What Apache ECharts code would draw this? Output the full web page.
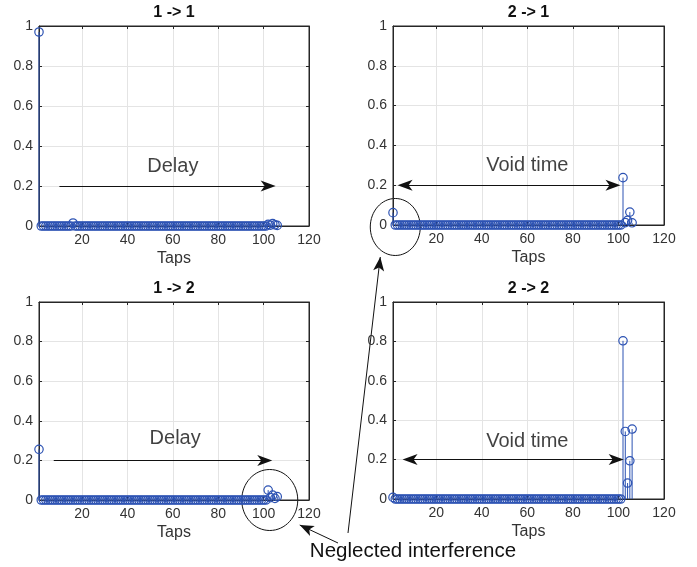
<!DOCTYPE html>
<html>
<head>
<meta charset="utf-8">
<script src="https://cdn.jsdelivr.net/npm/echarts@6/dist/echarts.min.js"></script>
<style>
  html, body { margin: 0; padding: 0; background: #ffffff; }
  #chart { width: 697px; height: 567px; }
</style>
</head>
<body>
<div id="chart"></div>
<script>
// Impulse responses (tap 1..106) for each input -> output path
const panelTitles = ['1 -> 1', '2 -> 1', '1 -> 2', '2 -> 2'];
const xTickValues = [20, 40, 60, 80, 100, 120];

const h11 = [
  0.97, 0, 0, 0, 0, 0, 0, 0, 0, 0,
  0, 0, 0, 0, 0, 0.015, 0, 0, 0, 0,
  0, 0, 0, 0, 0, 0, 0, 0, 0, 0,
  0, 0, 0, 0, 0, 0, 0, 0, 0, 0,
  0, 0, 0, 0, 0, 0, 0, 0, 0, 0,
  0, 0, 0, 0, 0, 0, 0, 0, 0, 0,
  0, 0, 0, 0, 0, 0, 0, 0, 0, 0,
  0, 0, 0, 0, 0, 0, 0, 0, 0, 0,
  0, 0, 0, 0, 0, 0, 0, 0, 0, 0,
  0, 0, 0, 0, 0, 0, 0, 0, 0, 0,
  0, 0.008, 0.004, 0.012, 0.006, 0.003
];
const h21 = [
  0.062, 0, 0, 0, 0, 0, 0, 0, 0, 0,
  0, 0, 0, 0, 0, 0, 0, 0, 0, 0,
  0, 0, 0, 0, 0, 0, 0, 0, 0, 0,
  0, 0, 0, 0, 0, 0, 0, 0, 0, 0,
  0, 0, 0, 0, 0, 0, 0, 0, 0, 0,
  0, 0, 0, 0, 0, 0, 0, 0, 0, 0,
  0, 0, 0, 0, 0, 0, 0, 0, 0, 0,
  0, 0, 0, 0, 0, 0, 0, 0, 0, 0,
  0, 0, 0, 0, 0, 0, 0, 0, 0, 0,
  0, 0, 0, 0, 0, 0, 0, 0, 0, 0,
  0, 0.238, 0.012, 0.023, 0.065, 0.011
];
const h12 = [
  0.256, 0, 0, 0, 0, 0, 0, 0, 0, 0,
  0, 0, 0, 0, 0, 0, 0, 0, 0, 0,
  0, 0, 0, 0, 0, 0, 0, 0, 0, 0,
  0, 0, 0, 0, 0, 0, 0, 0, 0, 0,
  0, 0, 0, 0, 0, 0, 0, 0, 0, 0,
  0, 0, 0, 0, 0, 0, 0, 0, 0, 0,
  0, 0, 0, 0, 0, 0, 0, 0, 0, 0,
  0, 0, 0, 0, 0, 0, 0, 0, 0, 0,
  0, 0, 0, 0, 0, 0, 0, 0, 0, 0,
  0, 0, 0, 0, 0, 0, 0, 0, 0, 0,
  0, 0.05, 0.012, 0.025, 0.008, 0.017
];
const h22 = [
  0.008, 0, 0, 0, 0, 0, 0, 0, 0, 0,
  0, 0, 0, 0, 0, 0, 0, 0, 0, 0,
  0, 0, 0, 0, 0, 0, 0, 0, 0, 0,
  0, 0, 0, 0, 0, 0, 0, 0, 0, 0,
  0, 0, 0, 0, 0, 0, 0, 0, 0, 0,
  0, 0, 0, 0, 0, 0, 0, 0, 0, 0,
  0, 0, 0, 0, 0, 0, 0, 0, 0, 0,
  0, 0, 0, 0, 0, 0, 0, 0, 0, 0,
  0, 0, 0, 0, 0, 0, 0, 0, 0, 0,
  0, 0, 0, 0, 0, 0, 0, 0, 0, 0,
  0, 0.803, 0.343, 0.081, 0.194, 0.355
];
const panelData = [h11, h21, h12, h22];

// Span arrows and their captions, in data units of each panel
const noteLabels = ['Delay', 'Void time', 'Delay', 'Void time'];
const noteSpans = [[10, 102], [6.3, 97.6], [7.5, 100.5], [8.5, 99]];
const noteLevels = [0.2, 0.2, 0.2, 0.2];
const noteTextPos = [[60, 0.3], [60, 0.3], [61, 0.31], [60, 0.29]];
const noteTwoSided = [false, true, false, true];

const FONT = '"Liberation Sans", Arial, Helvetica, sans-serif';
const AXIS = '#262626';
const GRIDC = '#e4e4e4';
const STEM = '#2c52b3';
const INK = '#111111';

const grids = [
  { left: 39, top: 26, width: 270, height: 200 },
  { left: 393, top: 26, width: 271, height: 199 },
  { left: 39, top: 302, width: 270, height: 198 },
  { left: 393, top: 302, width: 271, height: 197 }
];

const arrowHeadPath = 'path://M5.5,0L11,15L5.5,11L0,15Z';

const xAxes = [], yAxes = [], series = [];
grids.forEach((g, i) => {
  xAxes.push({
    gridIndex: i, type: 'value', min: 1, max: 120, position: 'bottom',
    axisLine: { show: true, onZero: false, lineStyle: { color: AXIS, width: 1 } },
    axisTick: { show: true, inside: true, length: 3, customValues: xTickValues, lineStyle: { color: AXIS } },
    axisLabel: { show: true, customValues: xTickValues, margin: 7, color: '#333', fontSize: 14, fontFamily: FONT },
    splitLine: { show: true, lineStyle: { color: GRIDC, width: 1 } },
    name: 'Taps', nameLocation: 'middle', nameGap: 25,
    nameTextStyle: { color: '#333', fontSize: 16, fontFamily: FONT }
  });
  xAxes.push({
    gridIndex: i, type: 'value', min: 1, max: 120, position: 'top',
    axisLine: { show: true, onZero: false, lineStyle: { color: AXIS, width: 1 } },
    axisTick: { show: true, inside: true, length: 3, customValues: xTickValues, lineStyle: { color: AXIS } },
    axisLabel: { show: false },
    splitLine: { show: false }
  });
  yAxes.push({
    gridIndex: i, type: 'value', min: 0, max: 1, interval: 0.2, position: 'left',
    axisLine: { show: true, onZero: false, lineStyle: { color: AXIS, width: 1 } },
    axisTick: { show: true, inside: true, length: 3, lineStyle: { color: AXIS } },
    axisLabel: { show: true, margin: 6, color: '#333', fontSize: 14, fontFamily: FONT },
    splitLine: { show: true, lineStyle: { color: GRIDC, width: 1 } }
  });
  yAxes.push({
    gridIndex: i, type: 'value', min: 0, max: 1, interval: 0.2, position: 'right',
    axisLine: { show: true, onZero: false, lineStyle: { color: AXIS, width: 1 } },
    axisTick: { show: true, inside: true, length: 3, lineStyle: { color: AXIS } },
    axisLabel: { show: false },
    splitLine: { show: false }
  });

  // stem plot: a line from the zero baseline up to each value, topped by an open circle
  series.push({
    type: 'custom',
    xAxisIndex: 2 * i, yAxisIndex: 2 * i,
    clip: false,
    silent: true,
    data: panelData[i].map((v, k) => [k + 1, v]),
    renderItem: function (params, api) {
      const x = api.value(0), y = api.value(1);
      const p0 = api.coord([x, 0]);
      const p1 = api.coord([x, y]);
      return {
        type: 'group',
        children: [
          { type: 'line', shape: { x1: p0[0], y1: p0[1], x2: p1[0], y2: p1[1] },
            style: { stroke: STEM, lineWidth: 1 } },
          { type: 'circle', shape: { cx: p1[0], cy: p1[1], r: 4.2 },
            style: { fill: 'none', stroke: STEM, lineWidth: 1.2 } }
        ]
      };
    }
  });

  // span arrow with its caption
  const headEnd = { symbol: arrowHeadPath, symbolSize: [11, 15] };
  const s = noteSpans[i], lv = noteLevels[i];
  series.push({
    type: 'scatter',
    xAxisIndex: 2 * i, yAxisIndex: 2 * i,
    silent: true,
    symbolSize: 0,
    data: [noteTextPos[i]],
    label: {
      show: true, position: 'inside', formatter: noteLabels[i],
      color: INK, fontSize: 20, fontFamily: FONT
    },
    markLine: {
      silent: true, animation: false,
      symbol: ['none', 'none'],
      lineStyle: { color: INK, width: 1, type: 'solid' },
      label: { show: false },
      data: [[
        Object.assign({ coord: [s[0], lv] }, noteTwoSided[i] ? headEnd : { symbol: 'none' }),
        Object.assign({ coord: [s[1], lv] }, headEnd)
      ]]
    }
  });
});

const chart = echarts.init(document.getElementById('chart'), null, { renderer: 'canvas' });
chart.setOption({
  animation: false,
  backgroundColor: '#ffffff',
  grid: grids.map(g => Object.assign({ show: true, borderColor: AXIS, borderWidth: 1, backgroundColor: '#fff' }, g)),
  xAxis: xAxes,
  yAxis: yAxes,
  series: series
});

// Panel titles and the "neglected interference" callout
function arrowHead(tip, from, len, halfW, notch) {
  const dx = tip[0] - from[0], dy = tip[1] - from[1];
  const L = Math.hypot(dx, dy), ux = dx / L, uy = dy / L;
  const px = -uy, py = ux;
  const bx = tip[0] - ux * len, by = tip[1] - uy * len;
  const nx = tip[0] - ux * (len - notch), ny = tip[1] - uy * (len - notch);
  return [tip, [bx + px * halfW, by + py * halfW], [nx, ny], [bx - px * halfW, by - py * halfW]];
}

const graphics = [];
grids.forEach((g, i) => {
  graphics.push({
    type: 'text', silent: true,
    x: g.left + g.width / 2, y: g.top - 13,
    style: { text: panelTitles[i], fill: '#111', font: 'bold 16px ' + FONT, align: 'center', verticalAlign: 'middle' }
  });
});

const c1 = chart.convertToPixel({ gridIndex: 1 }, [2, -0.01]);
const c2 = chart.convertToPixel({ gridIndex: 2 }, [102.7, 0]);
const ell1 = { rx: 25, ry: 28.5 }, ell2 = { rx: 28, ry: 30.5 };
graphics.push({ type: 'ellipse', silent: true, shape: { cx: c1[0], cy: c1[1], rx: ell1.rx, ry: ell1.ry },
  style: { fill: 'none', stroke: INK, lineWidth: 1 } });
graphics.push({ type: 'ellipse', silent: true, shape: { cx: c2[0], cy: c2[1], rx: ell2.rx, ry: ell2.ry },
  style: { fill: 'none', stroke: INK, lineWidth: 1 } });

const tip1 = [c1[0] - 15, c1[1] + 30];
const tail1 = [348, 533];
const tip2 = [c2[0] + 30, c2[1] + 25];
const tail2 = [338, 543];
[[tail1, tip1], [tail2, tip2]].forEach(([a, b]) => {
  graphics.push({ type: 'line', silent: true, shape: { x1: a[0], y1: a[1], x2: b[0], y2: b[1] },
    style: { stroke: INK, lineWidth: 1 } });
  graphics.push({ type: 'polygon', silent: true, shape: { points: arrowHead(b, a, 14, 5.5, 3.5) },
    style: { fill: INK } });
});
graphics.push({
  type: 'text', silent: true, x: 413, y: 551,
  style: { text: 'Neglected interference', fill: INK, font: '20.5px ' + FONT, align: 'center', verticalAlign: 'middle' }
});

chart.setOption({ graphic: graphics });
</script>
</body>
</html>
